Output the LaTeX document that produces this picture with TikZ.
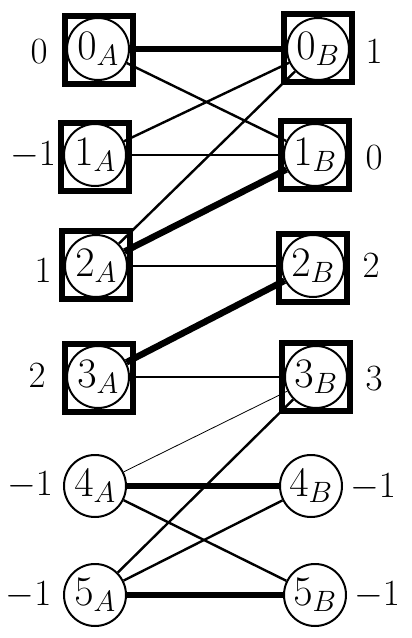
\documentclass[tikz,border=0pt]{standalone}
\usepackage{fix-cm}
\begin{document}
\begin{tikzpicture}[x=1pt,y=-1pt,
  every node/.style={inner sep=0pt},
  vert/.style={circle, draw, line width=2pt, fill=white, minimum size=62pt, font=\fontsize{42}{46}\selectfont},
  matched/.style={draw, line width=6pt, minimum size=68pt},
  lab/.style={font=\fontsize{37}{42}\selectfont},
  heavy/.style={line width=6.5pt},
  mid/.style={line width=2.4pt},
  light/.style={line width=1.1pt},
  faint/.style={line width=0.8pt}]
\useasboundingbox (0,0) rectangle (412,638);
% boxes
\node[matched] (b0A) at (99,50) {};
\node[matched] (b1A) at (95,157) {};
\node[matched] (b2A) at (96,265) {};
\node[matched] (b3A) at (99,378) {};
\node[matched] (b0B) at (318,48) {};
\node[matched] (b1B) at (315,155) {};
\node[matched] (b2B) at (313,268) {};
\node[matched] (b3B) at (316,377) {};
% vertices
\node[vert] (0A) at (98,49) {$0_A$};
\node[vert] (1A) at (95,155) {$1_A$};
\node[vert] (2A) at (96,266) {$2_A$};
\node[vert] (3A) at (98,377) {$3_A$};
\node[vert] (4A) at (95,486) {$4_A$};
\node[vert] (5A) at (95,595) {$5_A$};
\node[vert] (0B) at (318,49) {$0_B$};
\node[vert] (1B) at (315,155) {$1_B$};
\node[vert] (2B) at (313,266) {$2_B$};
\node[vert] (3B) at (316,377) {$3_B$};
\node[vert] (4B) at (311,486) {$4_B$};
\node[vert] (5B) at (315,595) {$5_B$};
% labels
\node[lab] (l0A) at (39,52) {$0$};
\node[lab] (l1A) at (33,155) {$-1$};
\node[lab] (l2A) at (43,271) {$1$};
\node[lab] (l3A) at (37,376) {$2$};
\node[lab] (l4A) at (30,485) {$-1$};
\node[lab] (l5A) at (28.5,595) {$-1$};
\node[lab] (l0B) at (374,52) {$1$};
\node[lab] (l1B) at (374,158) {$0$};
\node[lab] (l2B) at (371,266) {$2$};
\node[lab] (l3B) at (374,379) {$3$};
\node[lab] (l4B) at (373,487) {$-1$};
\node[lab] (l5B) at (377,595) {$-1$};
% edges
\draw[heavy] (0A) -- (0B);
\draw[mid] (0A) -- (1B);
\draw[mid] (1A) -- (0B);
\draw[light] (1A) -- (1B);
\draw[mid] (2A) -- (0B);
\draw[heavy] (2A) -- (1B);
\draw[light] (2A) -- (2B);
\draw[heavy] (3A) -- (2B);
\draw[mid] (3A) -- (3B);
\draw[faint] (4A) -- (3B);
\draw[mid] (5A) -- (3B);
\draw[heavy] (4A) -- (4B);
\draw[mid] (4A) -- (5B);
\draw[mid] (5A) -- (4B);
\draw[heavy] (5A) -- (5B);
\end{tikzpicture}
\end{document}
